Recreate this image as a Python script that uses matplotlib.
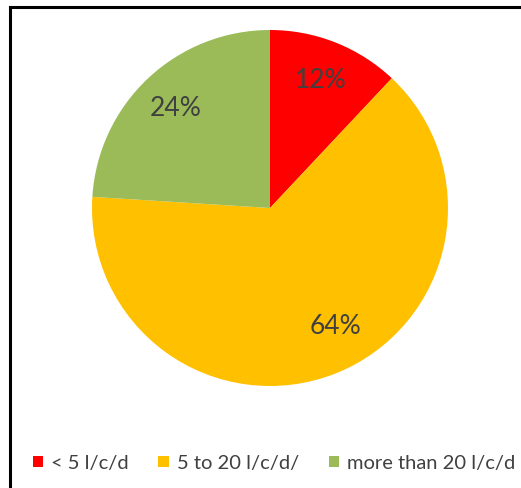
import matplotlib
matplotlib.use("Agg")
import numpy as np
import matplotlib.pyplot as plt
from matplotlib.lines import Line2D
from matplotlib.patches import Patch

labels = ['< 5 l/c/d', '5 to 20 l/c/d/', 'more than 20 l/c/d']
shares = [12, 64, 24]
colors = ['#FF0000', '#FFC000', '#9BBB59']

plt.rcParams['font.family'] = ['Lato', 'DejaVu Sans']

W, H = 521, 488
fig = plt.figure(figsize=(W / 100, H / 100), dpi=100)

# pie: centre ~ (270, 208) px, radius ~178 px
cx, cy, r = 270, 208, 178
ax = fig.add_axes([(cx - r) / W, (H - cy - r) / H, 2 * r / W, 2 * r / H])
wedges, texts, autotexts = ax.pie(shares, colors=colors, startangle=90, counterclock=False,
                                  autopct='%d%%', pctdistance=0.77,
                                  textprops={'fontsize': 19, 'color': '#404040'})
# the big slice's label sits off its bisector in the original
ang = np.deg2rad(-61)
autotexts[1].set_position((0.76 * np.cos(ang), 0.76 * np.sin(ang)))
ax.set_xlim(-1, 1)
ax.set_ylim(-1, 1)
ax.axis('off')

# frame (only top and left edges visible)
fig.add_artist(Line2D([10 / W, 1], [1 - 7 / H, 1 - 7 / H], color='black', lw=2.2))
fig.add_artist(Line2D([10 / W, 10 / W], [0, 1 - 7 / H], color='black', lw=2.2))

handles = [Patch(facecolor=c, edgecolor='none') for c in colors]
fig.legend(handles, labels, loc='center', bbox_to_anchor=(274 / W, 1 - 463 / H), ncol=3,
           frameon=False, fontsize=14.5, handlelength=0.5, handleheight=0.5,
           handletextpad=0.4, columnspacing=1.5, labelcolor='#404040')

fig.savefig('out.png', dpi=100)
